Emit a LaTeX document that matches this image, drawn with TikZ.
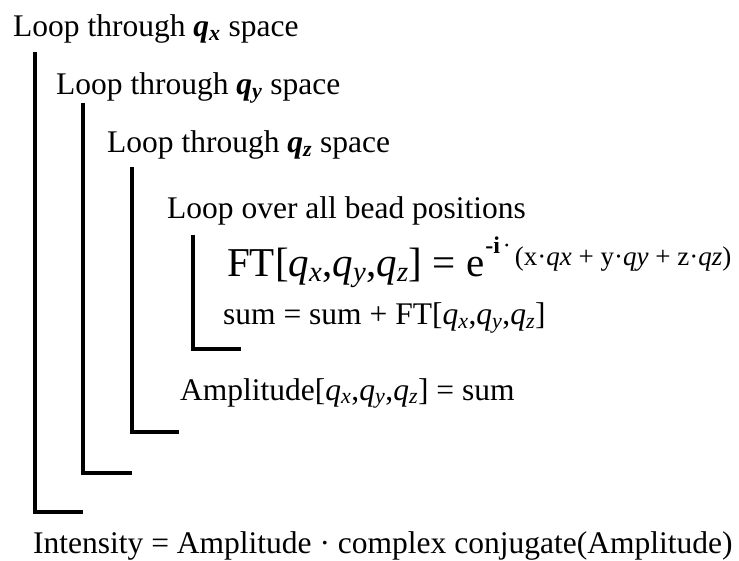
\documentclass[tikz,border=0pt]{standalone}
\usepackage{fontspec}
\setmainfont{Liberation Serif}
\newcommand{\bq}[1]{\textbf{\textit{q}}\textsubscript{\textbf{\textit{#1}}}}
\newcommand{\iq}[1]{\textit{q}\textsubscript{\textit{#1}}}
\begin{document}
\begin{tikzpicture}[x=1pt,y=-1pt,
  txt/.style={anchor=base west, inner sep=0pt, font=\fontsize{31.5}{36}\selectfont},
  bigtxt/.style={anchor=base west, inner sep=0pt, font=\fontsize{41}{46}\selectfont},
  bracket/.style={line width=4pt, line join=miter, line cap=butt}]
\useasboundingbox[fill=white] (0,0) rectangle (739,561);
% loop headers
\node[txt] (t1) at (13,37) {Loop through \bq{x} space};
\node[txt] (t2) at (56,95) {Loop through \bq{y} space};
\node[txt] (t3) at (107,153) {Loop through \bq{z} space};
\node[txt] (t4) at (167,219) {Loop over all bead positions};
% inner body
\node[bigtxt] (ft) at (227,277) {FT[\iq{x},\iq{y},\iq{z}] = e\hspace{1pt}\raisebox{23pt}{\fontsize{24}{26}\selectfont\textbf{-i}\hspace{3pt}·}\hspace{4pt}\raisebox{11pt}{\fontsize{27}{30}\selectfont(x·\textit{qx} + y·\textit{qy} + z·\textit{qz})}};
\node[txt] (sum) at (223,325) {sum = sum + FT[\iq{x},\iq{y},\iq{z}]};
\node[txt] (amp) at (180,400) {Amplitude[\iq{x},\iq{y},\iq{z}] = sum};
\node[txt] (int) at (33,553) {Intensity = Amplitude · complex conjugate(Amplitude)};
% brackets
\coordinate (a1) at (35,52);  \coordinate (b1) at (83,512);
\coordinate (a2) at (83,103); \coordinate (b2) at (132,473);
\coordinate (a3) at (132,167); \coordinate (b3) at (179,432);
\coordinate (a4) at (193,235); \coordinate (b4) at (241,349);
\draw[bracket] (a1) |- (b1);
\draw[bracket] (a2) |- (b2);
\draw[bracket] (a3) |- (b3);
\draw[bracket] (a4) |- (b4);
\end{tikzpicture}
\end{document}
